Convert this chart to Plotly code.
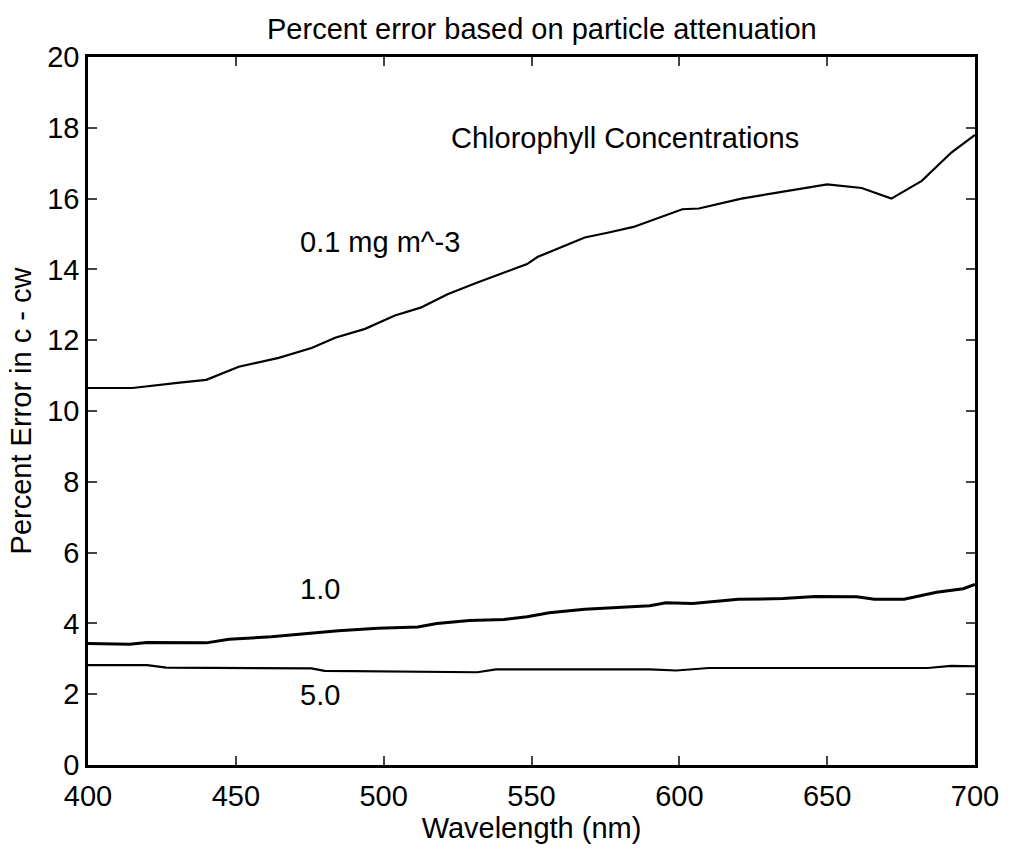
import plotly.graph_objects as go

# 0.1 mg m^-3
wl_01 = [400, 403, 415, 431, 440, 451, 464.5, 475.6, 483.6, 493.7, 503.8, 512.5, 521.6, 531.7, 540.8,
         548.5, 552, 568, 576.5, 584.5, 601, 606.6, 621, 640, 650, 661.7, 671.7, 682, 692, 700]
pe_01 = [10.65, 10.65, 10.65, 10.8, 10.88, 11.25, 11.5, 11.78, 12.07, 12.32, 12.7, 12.92, 13.3, 13.63, 13.9,
         14.15, 14.35, 14.9, 15.05, 15.2, 15.7, 15.72, 16.0, 16.25, 16.4, 16.3, 16.0, 16.5, 17.3, 17.8]

# 1.0 mg m^-3
wl_10 = [400, 401.7, 414, 420, 440, 447.7, 462, 478, 484.7, 498, 511.5, 518, 529, 540.7, 548.5,
         556, 568, 590, 595.5, 604.5, 620, 635, 646, 660, 666, 676, 687, 696, 700]
pe_10 = [3.43, 3.43, 3.41, 3.46, 3.45, 3.55, 3.62, 3.74, 3.79, 3.86, 3.9, 4.0, 4.08, 4.11, 4.19,
         4.3, 4.4, 4.5, 4.58, 4.56, 4.68, 4.7, 4.76, 4.75, 4.68, 4.68, 4.88, 4.98, 5.1]

# 5.0 mg m^-3
wl_50 = [400, 401.7, 420, 426.5, 475.6, 480, 509, 531.7, 538, 548.5, 590, 599, 610, 646, 684, 692, 700]
pe_50 = [2.82, 2.82, 2.82, 2.75, 2.73, 2.66, 2.63, 2.62, 2.70, 2.70, 2.70, 2.67, 2.74, 2.74, 2.74, 2.8, 2.79]

x_ticks = [400, 450, 500, 550, 600, 650, 700]
y_ticks = [0, 2, 4, 6, 8, 10, 12, 14, 16, 18, 20]

FONT = "Liberation Sans, Arial, Helvetica, sans-serif"
FS = 29

fig = go.Figure()
fig.add_trace(go.Scatter(x=wl_01, y=pe_01, mode="lines", line=dict(color="black", width=2.2), showlegend=False))
fig.add_trace(go.Scatter(x=wl_10, y=pe_10, mode="lines", line=dict(color="black", width=3), showlegend=False))
fig.add_trace(go.Scatter(x=wl_50, y=pe_50, mode="lines", line=dict(color="black", width=2.2), showlegend=False))

fig.update_layout(
    width=1011, height=850,
    margin=dict(l=88, r=30, t=57, b=85),
    paper_bgcolor="white", plot_bgcolor="white",
    font=dict(family=FONT, color="black"),
    title=dict(text="Percent error based on particle attenuation", x=0.536, xanchor="center",
               y=0.966, yanchor="middle", font=dict(size=FS, family=FONT)),
    xaxis=dict(range=[400, 700], tickvals=x_ticks, ticks="inside", ticklen=9, tickwidth=2,
               showline=True, linewidth=2.5, linecolor="black", mirror="ticks", showgrid=False,
               zeroline=False, tickfont=dict(size=FS), ticklabelstandoff=3,
               title=dict(text="Wavelength (nm)", font=dict(size=FS), standoff=0)),
    yaxis=dict(range=[0, 20], tickvals=y_ticks, ticks="inside", ticklen=9, tickwidth=2,
               showline=True, linewidth=2.5, linecolor="black", mirror="ticks", showgrid=False,
               zeroline=False, tickfont=dict(size=FS),
               title=dict(text="Percent Error in c - cw", font=dict(size=FS), standoff=8)),
    annotations=[
        dict(x=581.5, y=17.7, text="Chlorophyll Concentrations", showarrow=False, xanchor="center", yanchor="middle",
             font=dict(size=FS)),
        dict(x=471, y=14.77, text="0.1 mg m^-3", showarrow=False, xanchor="left", yanchor="middle",
             font=dict(size=FS)),
        dict(x=471, y=4.97, text="1.0", showarrow=False, xanchor="left", yanchor="middle", font=dict(size=FS)),
        dict(x=471, y=1.98, text="5.0", showarrow=False, xanchor="left", yanchor="middle", font=dict(size=FS)),
    ],
)

fig.write_html("out.html")
